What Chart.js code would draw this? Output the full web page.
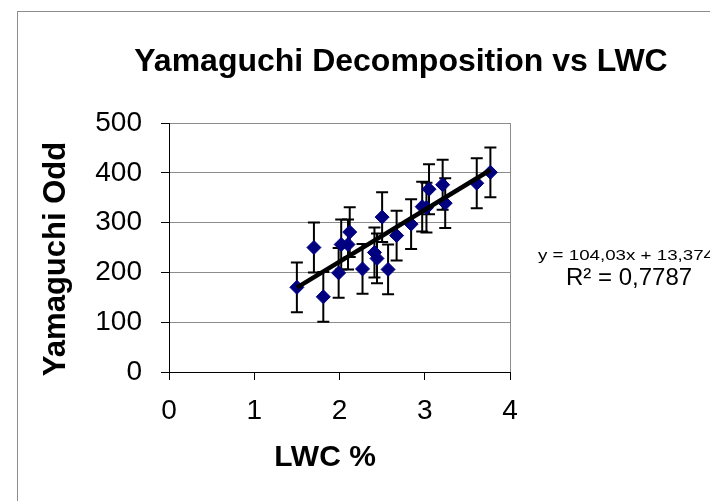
<!DOCTYPE html>
<html>
<head>
<meta charset="utf-8">
<script src="https://cdn.jsdelivr.net/npm/chart.js@4/dist/chart.umd.min.js"></script>
<style>
  body { margin: 0; background: #fff; }
  canvas { display: block; }
</style>
</head>
<body>
<canvas id="lwcChart" width="710" height="501"></canvas>
<script>
// LWC % against Yamaguchi odd-bounce power, with +/- error per sample
const lwc = [1.50, 1.70, 1.81, 1.99, 2.02, 2.10, 2.12, 2.27, 2.41, 2.44, 2.50,
             2.57, 2.67, 2.84, 2.97, 3.02, 3.05, 3.21, 3.24, 3.61, 3.77];
const odd = [170, 250, 151, 199, 256, 256, 281, 207, 240, 228, 311,
             206, 274, 297, 332, 330, 367, 376, 339, 379, 401];
const oddErr = [50, 50, 50, 50, 50, 50, 50, 50, 50, 50, 50,
                50, 50, 50, 50, 50, 50, 50, 50, 50, 50];

// linear fit reported on the chart
const slope = 104.03;
const intercept = 13.374;
const rSquared = "0,7787";

const xTicks = [0, 1, 2, 3, 4];
const yTicks = [0, 100, 200, 300, 400, 500];

const FONT = "'Liberation Sans', Arial, sans-serif";

const points = lwc.map((x, i) => ({ x: x, y: odd[i] }));
const xMin = Math.min(...lwc);
const xMax = Math.max(...lwc);
const fitLine = [
    { x: xMin, y: slope * xMin + intercept },
    { x: xMax, y: slope * xMax + intercept }
];

const frameAndText = {
    id: "frameAndText",
    beforeDraw(chart) {
        const ctx = chart.ctx;
        ctx.save();
        ctx.fillStyle = "#fff";
        ctx.fillRect(0, 0, chart.width, chart.height);
        ctx.strokeStyle = "#8c8c8c";
        ctx.lineWidth = 1;
        ctx.strokeRect(17.5, 11.5, 800, 600);
        ctx.restore();
    },
    afterDraw(chart) {
        const ctx = chart.ctx;
        ctx.save();
        ctx.fillStyle = "#000";
        ctx.textBaseline = "alphabetic";

        // chart title
        ctx.font = "bold 32px " + FONT;
        ctx.textAlign = "center";
        ctx.fillText("Yamaguchi Decomposition vs LWC", 401, 71);

        // axis titles
        ctx.font = "bold 30px " + FONT;
        ctx.fillText("LWC %", 325, 466);
        ctx.save();
        ctx.translate(65, 259);
        ctx.rotate(-Math.PI / 2);
        ctx.font = "bold 31px " + FONT;
        ctx.fillText("Yamaguchi Odd", 0, 0);
        ctx.restore();

        // fit equation, slightly widened like the rest of the text
        const eq = "y = " + slope.toFixed(2).replace(".", ",") + "x + " +
                   String(intercept).replace(".", ",");
        ctx.font = "15px " + FONT;
        ctx.textAlign = "left";
        const w = ctx.measureText(eq).width;
        ctx.save();
        ctx.translate(538, 260);
        ctx.scale(176 / w, 1);
        ctx.fillText(eq, 0, 0);
        ctx.restore();

        ctx.font = "24px " + FONT;
        ctx.fillText("R\u00b2 = " + rSquared, 566, 285);
        ctx.restore();
    }
};

// vertical error bars with caps, placed through the chart scales
const errorBars = {
    id: "errorBars",
    beforeDatasetsDraw(chart) {
        const ctx = chart.ctx;
        const xs = chart.scales.x;
        const ys = chart.scales.y;
        ctx.save();
        ctx.strokeStyle = "#000";
        ctx.lineWidth = 2;
        lwc.forEach((x, i) => {
            const px = xs.getPixelForValue(x);
            const top = ys.getPixelForValue(odd[i] + oddErr[i]);
            const bot = ys.getPixelForValue(odd[i] - oddErr[i]);
            ctx.beginPath();
            ctx.moveTo(px, top);
            ctx.lineTo(px, bot);
            ctx.moveTo(px - 6, top);
            ctx.lineTo(px + 6, top);
            ctx.moveTo(px - 6, bot);
            ctx.lineTo(px + 6, bot);
            ctx.stroke();
        });
        ctx.restore();
    }
};

new Chart(document.getElementById("lwcChart"), {
    type: "scatter",
    data: {
        datasets: [{
            type: "line",
            label: "fit",
            data: fitLine,
            borderColor: "#000",
            borderWidth: 4.5,
            pointRadius: 0,
            fill: false
        }, {
            label: "Yamaguchi Odd",
            data: points,
            pointStyle: "rectRot",
            pointRadius: 7,
            pointBackgroundColor: "#000080",
            pointBorderColor: "#000080",
            pointBorderWidth: 1
        }]
    },
    options: {
        responsive: false,
        animation: false,
        devicePixelRatio: 1,
        layout: { padding: { top: 123, right: 200, left: 0, bottom: 0 } },
        plugins: {
            legend: { display: false },
            tooltip: { enabled: false }
        },
        scales: {
            x: {
                type: "linear",
                min: 0,
                max: 4,
                afterBuildTicks: s => { s.ticks = xTicks.map(v => ({ value: v })); },
                afterFit: s => { s.height = 129; },
                ticks: {
                    color: "#000",
                    font: { family: FONT, size: 28 },
                    padding: 14,
                    maxRotation: 0
                },
                grid: {
                    color: c => (c.tick && c.tick.value === 4 ? "#8c8c8c" : "rgba(0,0,0,0)"),
                    tickColor: "#000",
                    tickLength: 8,
                    lineWidth: 1
                },
                border: { color: "#000", width: 1 }
            },
            y: {
                type: "linear",
                min: 0,
                max: 500,
                afterBuildTicks: s => { s.ticks = yTicks.map(v => ({ value: v })); },
                afterFit: s => { s.width = 169; },
                ticks: {
                    color: "#000",
                    font: { family: FONT, size: 28 },
                    padding: 19
                },
                grid: {
                    color: "#8c8c8c",
                    tickColor: "#000",
                    tickLength: 8,
                    lineWidth: 1
                },
                border: { color: "#000", width: 1 }
            }
        }
    },
    plugins: [frameAndText, errorBars]
});
</script>
</body>
</html>
